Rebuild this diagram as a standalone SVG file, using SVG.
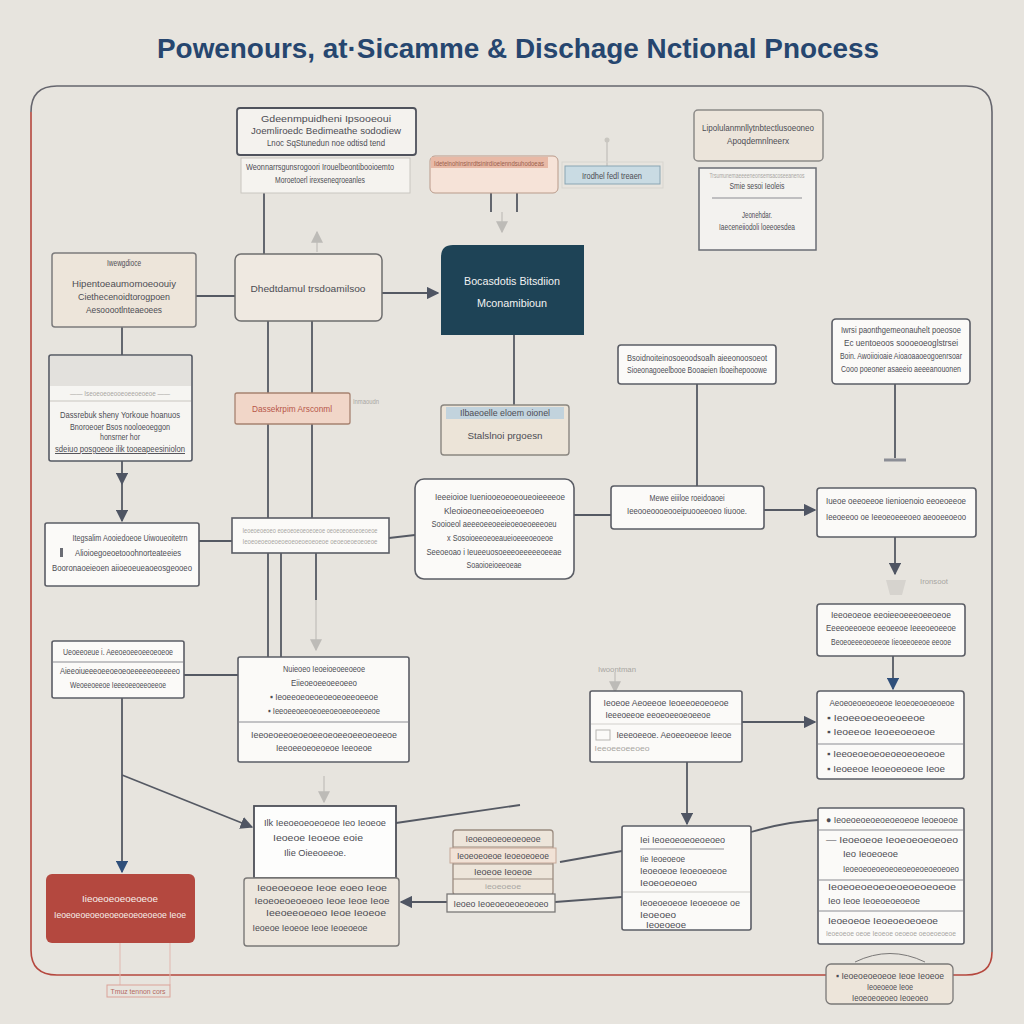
<svg xmlns="http://www.w3.org/2000/svg" width="1024" height="1024" viewBox="0 0 1024 1024">
<style>
text{font-family:"Liberation Sans","DejaVu Sans",sans-serif;}
.t{font-size:9.5px;fill:#4d4d54;text-anchor:middle;}
.tl{font-size:9.5px;fill:#4d4d54;}
.f{font-size:8px;fill:#a8a6a2;text-anchor:middle;}
.w{fill:#fbfaf8;stroke:#5b5d65;stroke-width:1.6;}
.b{fill:#ede6dc;stroke:#7c7b7c;stroke-width:1.5;}
.sep{stroke:#8b8c92;stroke-width:1;}
.c{fill:none;stroke:#555963;stroke-width:1.8;}
.cf{fill:none;stroke:#c9c6c0;stroke-width:1.5;}
</style>
<defs>
<marker id="ar" viewBox="0 0 10 10" refX="9" refY="5" markerWidth="7" markerHeight="7" orient="auto"><path d="M0,0 L10,5 L0,10 z" fill="#4f5563"/></marker>
<marker id="arb" viewBox="0 0 10 10" refX="9" refY="5" markerWidth="7" markerHeight="7" orient="auto"><path d="M0,0 L10,5 L0,10 z" fill="#2f4f7a"/></marker>
<marker id="arf" viewBox="0 0 10 10" refX="9" refY="5" markerWidth="8" markerHeight="8" orient="auto"><path d="M0,0 L10,5 L0,10 z" fill="#bdbbb7"/></marker>
</defs>
<rect width="1024" height="1024" fill="#e7e4de"/>
<text x="518" y="58" font-size="28" font-weight="bold" fill="#26466f" text-anchor="middle" textLength="722" lengthAdjust="spacingAndGlyphs">Powenours, at·Sicamme &amp; Dischage Nctional Pnocess</text>
<g id="frame">
<path d="M31,112 Q31,86 57,86 L966,86 Q992,86 992,112 L992,952" fill="none" stroke="#66666e" stroke-width="1.6"/>
<path d="M31,112 L31,950 Q31,975 57,975 L966,975 Q992,975 992,952" fill="none" stroke="#b5473e" stroke-width="1.6"/>
</g>
<g id="connectors">
<path class="c" d="M264,193 V254"/>
<path class="c" d="M196,296 H235"/>
<path class="c" d="M382,293 H438" marker-end="url(#ar)"/>
<path class="c" d="M122,327 V355"/>
<path class="c" d="M122,461 V484" marker-end="url(#ar)"/>
<path class="c" d="M122,484 V521" marker-end="url(#ar)"/>
<path class="c" d="M268,321 V657"/>
<path class="c" d="M312,321 V518"/>
<path class="c" d="M281,553 V657"/>
<path class="c" d="M316,553 V600"/>
<path class="cf" d="M316,600 V650" marker-end="url(#arf)"/>
<path class="c" d="M199,541 H232"/>
<path class="c" d="M389,538 L415,535"/>
<path class="c" d="M574,515 H611"/>
<path class="c" d="M514,335 V405"/>
<path class="c" d="M697,384 V486"/>
<path class="c" d="M764,510 H815" marker-end="url(#ar)"/>
<path class="c" d="M895,384 V458"/>
<path d="M884,460 H906" stroke="#8c8e96" stroke-width="3"/>
<path class="c" d="M895,537 V574" marker-end="url(#ar)"/>
<path class="c" d="M893,656 V689" marker-end="url(#arb)"/>
<path class="c" d="M742,722 H815" marker-end="url(#ar)"/>
<path class="c" d="M122,698 V872" stroke="#3a4f6e" marker-end="url(#arb)"/>
<path class="c" d="M184,675 H238"/>
<path class="c" d="M122,775 L252,827" marker-end="url(#ar)"/>
<path class="c" d="M396,823 L520,805"/>
<path class="c" d="M687,762 V824" marker-end="url(#ar)"/>
<path class="c" d="M751,832 Q785,822 818,820"/>
<path class="c" d="M622,851 L560,862"/>
<path class="c" d="M622,897 L555,902"/>
<path class="c" d="M447,902 H401" marker-end="url(#ar)"/>
<path class="cf" d="M324,776 V802" marker-end="url(#arf)"/>
<path class="cf" d="M615,672 V692" marker-end="url(#arf)"/>
<path class="cf" d="M607,140 V166"/>
<circle cx="607" cy="140" r="2.5" fill="#c9c6c0"/>
<path class="cf" d="M317,252 V232" marker-end="url(#arf)"/>
<path class="cf" d="M502,212 V232" marker-end="url(#arf)"/>
<path class="c" d="M491,193 V212 M517,193 V212" stroke-width="1"/>
<path d="M120,943 V985" stroke="#e2b7af" stroke-width="1"/>
<path d="M170,943 V985" stroke="#e2b7af" stroke-width="1"/>
<path d="M855,962 Q890,945 925,962" fill="none" stroke="#7a7877" stroke-width="1"/>
</g>
<g id="n1"><rect x="237" y="108" width="179" height="47" rx="3" fill="#f4f2ee" stroke="#4f525c" stroke-width="1.8"/>
<text class="t" x="326" y="122" textLength="130" lengthAdjust="spacingAndGlyphs">Gdeenmpuidheni Ipsooeoui</text>
<text class="t" x="326" y="134" textLength="150" lengthAdjust="spacingAndGlyphs">Joemliroedc Bedimeathe sododiew</text>
<text class="t" x="326" y="146" textLength="118" lengthAdjust="spacingAndGlyphs">Lnoc SqStunedun noe odtisd tend</text></g>
<g id="n1b"><rect x="241" y="158" width="169" height="35" fill="#f5f3ef" stroke="#c9c6c0"/>
<text class="t" x="320" y="170" textLength="148" lengthAdjust="spacingAndGlyphs">Weonnarrsgunsrogoori Irouelbeontibooioemto</text>
<text class="t" x="320" y="183" textLength="90" lengthAdjust="spacingAndGlyphs">Moroetoerl irexseneqroeanles</text></g>
<g id="n2"><rect x="430" y="156" width="128" height="37" rx="5" fill="#f6e3d8" stroke="#b99a8a"/>
<rect x="431" y="157" width="117" height="11" fill="#e8b9a6"/>
<text x="489" y="166" font-size="8" fill="#9a5f4c" text-anchor="middle" textLength="110" lengthAdjust="spacingAndGlyphs">Idetelnohinsinrdtsinirdioelenndsuhodoeas</text></g>
<g id="n3"><rect x="562" y="162" width="101" height="26" fill="none" stroke="#d8d5cf"/>
<rect x="565" y="166" width="95" height="18" fill="#c9dbe3" stroke="#8aa5b3"/>
<text class="t" x="612" y="179" textLength="60" lengthAdjust="spacingAndGlyphs">Irodhel fedl treaen</text></g>
<g id="n4"><rect x="694" y="110" width="129" height="51" rx="4" fill="#ece5db" stroke="#8c8a88" stroke-width="1.5"/>
<text class="t" x="758" y="131" textLength="112" lengthAdjust="spacingAndGlyphs">Lipolulanmnllytnbtectlusoeoneo</text>
<text class="t" x="758" y="144" textLength="62" lengthAdjust="spacingAndGlyphs">Apoqdemnlneerx</text></g>
<g id="n5"><rect x="699" y="168" width="117" height="82" fill="#f3f2ef" stroke="#6a6c74" stroke-width="1.5"/>
<text class="f" x="757" y="178" textLength="95" lengthAdjust="spacingAndGlyphs">Trsumunemaeeeeneonsemsacoseeanenos</text>
<text class="t" x="757" y="189" textLength="55" lengthAdjust="spacingAndGlyphs">Smie sesoi Ieoleis</text>
<line class="sep" x1="712" y1="198" x2="802" y2="198"/>
<text class="t" x="757" y="218" textLength="30" lengthAdjust="spacingAndGlyphs">Jeonehdar.</text>
<text class="t" x="757" y="230" textLength="76" lengthAdjust="spacingAndGlyphs">Iaeceneiiodoli loeeoesdea</text></g>
<g id="n6"><rect x="52" y="253" width="144" height="74" rx="3" fill="#ede5da" stroke="#7c7b7c" stroke-width="1.5"/>
<text class="t" x="124" y="266" font-size="7" textLength="34" lengthAdjust="spacingAndGlyphs">Iwewgdioce</text>
<text class="t" x="124" y="287" textLength="104" lengthAdjust="spacingAndGlyphs">Hipentoeaumomoeoouiy</text>
<text class="t" x="124" y="300" textLength="92" lengthAdjust="spacingAndGlyphs">Ciethecenoidtorogpoen</text>
<text class="t" x="124" y="313" textLength="76" lengthAdjust="spacingAndGlyphs">Aesooootlnteaeoees</text></g>
<g id="n7"><rect x="235" y="254" width="147" height="67" rx="6" fill="#efe9e1" stroke="#6e6d6e" stroke-width="1.5"/>
<text class="t" x="308" y="292" textLength="115" lengthAdjust="spacingAndGlyphs">Dhedtdamul trsdoamilsoo</text></g>
<g id="n8"><path d="M453,245 H584 V335 H441 V257 Q441,245 453,245 z" fill="#1e4356"/>
<text x="512" y="285" font-size="11" fill="#f2f2f2" text-anchor="middle" textLength="96" lengthAdjust="spacingAndGlyphs">Bocasdotis Bitsdiion</text>
<text x="512" y="307" font-size="11" fill="#f2f2f2" text-anchor="middle" textLength="70" lengthAdjust="spacingAndGlyphs">Mconamibioun</text></g>
<g id="n9"><rect x="49" y="355" width="143" height="106" rx="2" fill="#f6f5f2" stroke="#555963" stroke-width="1.6"/>
<rect x="50" y="356" width="141" height="30" fill="#e3e1dd"/>
<text class="f" x="120" y="396" textLength="100" lengthAdjust="spacingAndGlyphs">—— Iseoeoeoeooeoeeoeoeoe ——</text>
<line x1="50" y1="401" x2="191" y2="401" stroke="#c9c6c0"/>
<text class="t" x="120" y="418" textLength="120" lengthAdjust="spacingAndGlyphs">Dassrebuk sheny Yorkoue hoanuos</text>
<text class="t" x="120" y="430" textLength="100" lengthAdjust="spacingAndGlyphs">Bnoroeoer Bsos nooloeoeggon</text>
<text class="t" x="120" y="440" textLength="40" lengthAdjust="spacingAndGlyphs">honsrner hor</text>
<text class="t" x="120" y="452" textLength="130" lengthAdjust="spacingAndGlyphs" text-decoration="underline">sdeiuo posgoeoe ilik tooeapeesiniolon</text></g>
<g id="n10"><rect x="235" y="393" width="115" height="31" rx="2" fill="#f1d6c8" stroke="#a78270" stroke-width="1.3"/>
<text x="292" y="412" font-size="9.5" fill="#b7574a" text-anchor="middle" textLength="80" lengthAdjust="spacingAndGlyphs">Dassekrpim Arsconml</text>
<text class="f" x="366" y="404" textLength="26" lengthAdjust="spacingAndGlyphs">Inmaoudn</text></g>
<g id="n11"><rect x="441" y="405" width="128" height="50" rx="3" fill="#ece4d8" stroke="#8a8680" stroke-width="1.4"/>
<rect x="446" y="407" width="118" height="12" fill="#c2d3dd"/>
<text class="t" x="505" y="416" font-size="8" fill="#8397a5" textLength="90" lengthAdjust="spacingAndGlyphs">Ilbaeoelle eloem oionel</text>
<text class="t" x="505" y="439" textLength="75" lengthAdjust="spacingAndGlyphs">Stalslnoi prgoesn</text></g>
<g id="n12"><rect x="618" y="345" width="158" height="39" rx="3" class="w"/>
<text class="t" x="697" y="361" textLength="140" lengthAdjust="spacingAndGlyphs">Bsoidnoiteinosoeoodsoalh aieeonoosoeot</text>
<text class="t" x="697" y="373" textLength="140" lengthAdjust="spacingAndGlyphs">Sioeonagoeelbooe Booaeien Iboeihepooowe</text></g>
<g id="n13"><rect x="832" y="319" width="138" height="65" rx="4" class="w"/>
<text class="t" x="901" y="333" textLength="120" lengthAdjust="spacingAndGlyphs">Iwrsi paonthgemeonauhelt poeosoe</text>
<text class="t" x="901" y="346" textLength="114" lengthAdjust="spacingAndGlyphs">Ec uentoeoos soooeoeoglstrsei</text>
<text class="t" x="901" y="359" textLength="122" lengthAdjust="spacingAndGlyphs">Boin. Awoiioioaie Aioaoaaoeogoenrsoar</text>
<text class="t" x="901" y="372" textLength="120" lengthAdjust="spacingAndGlyphs">Cooo poeoner asaeeio aeeeanouonen</text></g>
<g id="n14"><rect x="45" y="523" width="154" height="63" rx="2" class="w"/>
<text class="t" x="130" y="541" textLength="115" lengthAdjust="spacingAndGlyphs">Itegsalim Aooiedoeoe Uiwoueoitetrn</text>
<text class="t" x="128" y="556" textLength="106" lengthAdjust="spacingAndGlyphs">Alioioegoeoetooohnorteateeies</text>
<rect x="60" y="548" width="3" height="9" fill="#6a6c74"/>
<text class="t" x="122" y="571" textLength="140" lengthAdjust="spacingAndGlyphs">Booronaoeieoen aiioeoeueaoeosgeooeo</text></g>
<g id="n15"><rect x="232" y="518" width="157" height="35" class="w"/>
<text class="f" x="310" y="533" textLength="135" lengthAdjust="spacingAndGlyphs">Ieoeoeoeoeo eoeoeoeoeoeoeoe oeoeoeoeoeoeoeoe</text>
<text class="f" x="310" y="544" textLength="135" lengthAdjust="spacingAndGlyphs">Ieoeoeoeoeoeoeoeoeoeoeoeoe oeoeoeoeoeoeoe</text></g>
<g id="n16"><rect x="415" y="479" width="159" height="100" rx="9" class="w"/>
<text class="t" x="500" y="500" textLength="130" lengthAdjust="spacingAndGlyphs">Ieeeioioe  Iueniooeoeoeoueoieeeeoe</text>
<text class="t" x="494" y="514" textLength="100" lengthAdjust="spacingAndGlyphs">Kleoioeoneeoeioeeoeeoeo</text>
<text class="t" x="494" y="527" textLength="125" lengthAdjust="spacingAndGlyphs">Sooioeol aeeeoeeoeeieoeoeoeeeoeu</text>
<text class="t" x="500" y="541" textLength="106" lengthAdjust="spacingAndGlyphs">x Sosoioeeoeoeaueioeeeoeoeoe</text>
<text class="t" x="494" y="555" textLength="135" lengthAdjust="spacingAndGlyphs">Seeoeoao i Ieueeuosoeeeoeeeeeoeeae</text>
<text class="t" x="494" y="568" textLength="55" lengthAdjust="spacingAndGlyphs">Soaoioeioeeoeae</text></g>
<g id="n17"><rect x="611" y="486" width="153" height="43" rx="3" class="w"/>
<text class="t" x="687" y="501" textLength="75" lengthAdjust="spacingAndGlyphs">Mewe eiiiloe roeidoaoei</text>
<text class="t" x="687" y="514" textLength="120" lengthAdjust="spacingAndGlyphs">Ieeooeoooeooeipuooeeoeo Iiuooe.</text></g>
<g id="n18"><rect x="817" y="488" width="159" height="49" rx="3" class="w"/>
<text class="t" x="896" y="504" textLength="140" lengthAdjust="spacingAndGlyphs">Iueoe oeeoeeoe Iienioenoio eeoeoeeoe</text>
<text class="t" x="896" y="520" textLength="140" lengthAdjust="spacingAndGlyphs">Ieeoeeoo oe Ieeoeoeeeoeo  aeooeeoeoo</text>
<path d="M886,580 H906 L902,595 H890 z" fill="#d6d3ce"/>
<text class="f" x="934" y="584" textLength="28" lengthAdjust="spacingAndGlyphs">Ironsoot</text></g>
<g id="n19"><rect x="817" y="604" width="148" height="52" rx="3" class="w"/>
<text class="t" x="891" y="618" textLength="120" lengthAdjust="spacingAndGlyphs">Ieeoeoeoe eeoieeoeeeoeeoeoe</text>
<text class="t" x="891" y="631" textLength="130" lengthAdjust="spacingAndGlyphs">Eeeeoeeoeoe eeoeeoe Ieeeoeoeeoe</text>
<text class="t" x="891" y="645" textLength="120" lengthAdjust="spacingAndGlyphs">Beoeoeeeoeoeeoe Iieoeeoeeoe eeooe</text></g>
<g id="n20"><rect x="52" y="641" width="132" height="57" rx="2" class="w"/>
<text class="t" x="118" y="655" textLength="110" lengthAdjust="spacingAndGlyphs">Ueoeeoeue i. Aeeoeoeeoeeoeoeoe</text>
<line class="sep" x1="53" y1="662" x2="183" y2="662"/>
<text class="t" x="120" y="674" textLength="120" lengthAdjust="spacingAndGlyphs">Aieeoiueeeoeeoeoeoeeeeeoeeeeeo</text>
<text class="t" x="118" y="688" textLength="96" lengthAdjust="spacingAndGlyphs">Weoeeoeeoe Ieeeoeeoeeoeeoe</text></g>
<g id="n21"><rect x="238" y="657" width="171" height="105" rx="2" class="w"/>
<text class="t" x="324" y="672" textLength="82" lengthAdjust="spacingAndGlyphs">Nuieoeo Ieoeioeoeeoeoe</text>
<text class="t" x="324" y="686" textLength="66" lengthAdjust="spacingAndGlyphs">Eiieoeoeeoeeoeeo</text>
<text class="t" x="324" y="700" textLength="108" lengthAdjust="spacingAndGlyphs">▪ Ieoeeoeoeoeoeoeoeeoeeoe</text>
<text class="t" x="324" y="714" textLength="112" lengthAdjust="spacingAndGlyphs">▪ Ieeoeeoeeoeoeeoeoeeoeeoeoe</text>
<line class="sep" x1="239" y1="722" x2="408" y2="722"/>
<text class="t" x="324" y="738" textLength="146" lengthAdjust="spacingAndGlyphs">Ieeoeoeeoeoeoeeoeoeeoeeoeoeeoe</text>
<text class="t" x="324" y="751" textLength="96" lengthAdjust="spacingAndGlyphs">Ieeoeeoeoeoeoe Ieeoeoe</text></g>
<g id="n22"><rect x="590" y="691" width="152" height="71" rx="2" class="w"/>
<text class="f" x="617" y="672" textLength="38" lengthAdjust="spacingAndGlyphs">Iwoontman</text>
<text class="t" x="666" y="706" textLength="125" lengthAdjust="spacingAndGlyphs">Ieoeoe Aeoeeoe Ieoeeoeoeoeoe</text>
<text class="t" x="658" y="718" textLength="105" lengthAdjust="spacingAndGlyphs">Ieeeoeeoe eeoeoeeoeoeeoe</text>
<line x1="591" y1="724" x2="741" y2="724" stroke="#d2d0cc"/>
<rect x="596" y="730" width="14" height="10" fill="none" stroke="#b8b6b2"/>
<text class="t" x="674" y="738" textLength="115" lengthAdjust="spacingAndGlyphs">Ieeeoeeoe. Aeoeeoeeoe Ieeoe</text>
<text class="f" x="622" y="751" textLength="55" lengthAdjust="spacingAndGlyphs">Ieeoeeoeeoeo</text></g>
<g id="n23"><rect x="817" y="691" width="147" height="88" rx="3" class="w"/>
<text class="t" x="892" y="706" textLength="125" lengthAdjust="spacingAndGlyphs">Aeoeoeoeoeoeoe Ieoeoeoeoeoeoe</text>
<text class="tl" x="827" y="721" textLength="98" lengthAdjust="spacingAndGlyphs">▪ Ieoeeoeoeoeoeeoe</text>
<text class="tl" x="827" y="735" textLength="108" lengthAdjust="spacingAndGlyphs">▪ Ieoeeoe Ieoeeoeoeoe</text>
<line class="sep" x1="818" y1="744" x2="963" y2="744"/>
<text class="tl" x="827" y="757" textLength="118" lengthAdjust="spacingAndGlyphs">▪ Ieeoeoeoeoeoeoeoeoeoe</text>
<text class="tl" x="827" y="772" textLength="118" lengthAdjust="spacingAndGlyphs">▪ Ieoeeoe Ieoeoeoeoe Ieoe</text></g>
<g id="n24"><rect x="254" y="806" width="142" height="72" fill="#fdfdfc" stroke="#4d4f58" stroke-width="1.8"/>
<text class="t" x="325" y="826" textLength="122" lengthAdjust="spacingAndGlyphs">Ilk  Ieeoeoeoeoeoe Ieo Ieoeoe</text>
<text class="t" x="318" y="841" textLength="90" lengthAdjust="spacingAndGlyphs">Ieoeoe Ieoeoe eoie</text>
<text class="t" x="315" y="856" textLength="62" lengthAdjust="spacingAndGlyphs">Ilie Oieeoeeoe.</text></g>
<g id="n25"><rect x="244" y="878" width="155" height="68" rx="3" fill="#ece6dd" stroke="#7a7877" stroke-width="1.4"/>
<text class="t" x="322" y="891" textLength="130" lengthAdjust="spacingAndGlyphs">Ieoeoeoeoe Ieoe eoeo Ieoe</text>
<text class="t" x="322" y="904" textLength="135" lengthAdjust="spacingAndGlyphs">Ieoeoeoeoeoeo Ieoe Ieoe Ieoe</text>
<text class="t" x="326" y="916" textLength="120" lengthAdjust="spacingAndGlyphs">Ieeoeeoeoeo Ieoe Ieoeoe</text>
<text class="t" x="310" y="931" textLength="115" lengthAdjust="spacingAndGlyphs">Ieoeoe Ieoeoe Ieoe Ieoeoeoe</text></g>
<g id="n26"><rect x="453" y="830" width="100" height="65" rx="3" fill="#ede5da" stroke="#9b8c80" stroke-width="1.3"/>
<line x1="453" y1="847" x2="553" y2="847" stroke="#9b8c80"/>
<rect x="450" y="848" width="106" height="15" fill="#f1e2d6" stroke="#c6a898"/>
<line x1="453" y1="864" x2="553" y2="864" stroke="#9b8c80"/>
<line x1="453" y1="879" x2="553" y2="879" stroke="#9b8c80"/>
<text class="t" x="503" y="842" textLength="75" lengthAdjust="spacingAndGlyphs">Ieoeoeoeoeoeoeoe</text>
<text class="t" x="503" y="859" textLength="92" lengthAdjust="spacingAndGlyphs">Ieoeoeoeoe Ieoeoeoeoe</text>
<text class="t" x="503" y="875" textLength="58" lengthAdjust="spacingAndGlyphs">Ieoeoe Ieoeoe</text>
<text class="f" x="503" y="889" font-size="7" textLength="36" lengthAdjust="spacingAndGlyphs">ieoeoeoe</text></g>
<g id="n27"><rect x="447" y="894" width="108" height="18" fill="#f3f0ea" stroke="#7a7877" stroke-width="1.3"/>
<text class="t" x="501" y="907" textLength="95" lengthAdjust="spacingAndGlyphs">Ieoeo Ieoeoeoeoeoeoeo</text></g>
<g id="n28"><rect x="622" y="826" width="129" height="104" rx="2" class="w" fill="#f6f4f0"/>
<text class="tl" x="640" y="843" textLength="85" lengthAdjust="spacingAndGlyphs">Iei Ieoeoeoeoeoeoeo</text>
<line class="sep" x1="640" y1="849" x2="724" y2="849"/>
<text class="tl" x="640" y="862" textLength="45" lengthAdjust="spacingAndGlyphs">Iie Ieoeoeoe</text>
<text class="tl" x="640" y="874" textLength="87" lengthAdjust="spacingAndGlyphs">Ieoeoeoe Ieoeoeoeoe</text>
<text class="tl" x="640" y="886" textLength="57" lengthAdjust="spacingAndGlyphs">Ieoeoeoeoeo</text>
<line x1="623" y1="892" x2="750" y2="892" stroke="#cfcdc9"/>
<text class="tl" x="640" y="906" textLength="100" lengthAdjust="spacingAndGlyphs">Ieoeoeoeoe Ieoeoeoe oe</text>
<text class="tl" x="640" y="918" textLength="36" lengthAdjust="spacingAndGlyphs">Ieoeoeo</text>
<text class="tl" x="646" y="928" font-size="8" textLength="40" lengthAdjust="spacingAndGlyphs">Ieoeoeoe</text></g>
<g id="n29"><rect x="818" y="808" width="146" height="136" rx="2" class="w" fill="#f6f4f0"/>
<text class="tl" x="826" y="823" textLength="132" lengthAdjust="spacingAndGlyphs">● Ieoeoeoeoeoeoeoeoe Ieoeoeoe</text>
<line class="sep" x1="819" y1="830" x2="963" y2="830"/>
<text class="tl" x="826" y="843" textLength="132" lengthAdjust="spacingAndGlyphs">— Ieoeoeoe Ieoeoeoeoeoeo</text>
<text class="tl" x="843" y="857" textLength="55" lengthAdjust="spacingAndGlyphs">Ieo Ieoeoeoe</text>
<text class="tl" x="843" y="872" textLength="116" lengthAdjust="spacingAndGlyphs">Ieoeoeoeoeoeoeoeoeoeoeoeoeo</text>
<line class="sep" x1="819" y1="880" x2="963" y2="880"/>
<text class="tl" x="828" y="890" fill="#8d8b88" textLength="128" lengthAdjust="spacingAndGlyphs">Ieoeoeoeoeoeoeoeoeoeoe</text>
<text class="tl" x="828" y="904" textLength="92" lengthAdjust="spacingAndGlyphs">Ieo Ieoe Ieoeoeoeoeoe</text>
<line class="sep" x1="819" y1="911" x2="963" y2="911"/>
<text class="tl" x="828" y="924" textLength="110" lengthAdjust="spacingAndGlyphs">Ieoeoeoe Ieoeoeoeoeoe</text>
<text class="f" x="891" y="936" textLength="130" lengthAdjust="spacingAndGlyphs">Ieoeoeoe oeoe Ieoeoe oeoeoe oeoeoeoeoe</text></g>
<g id="n30"><rect x="46" y="874" width="149" height="69" rx="6" fill="#b4483f"/>
<text x="120" y="902" font-size="9.5" fill="#f6eeea" text-anchor="middle" textLength="76" lengthAdjust="spacingAndGlyphs">Iieoeoeoeoeoeoe</text>
<text x="120" y="918" font-size="9.5" fill="#f6eeea" text-anchor="middle" textLength="132" lengthAdjust="spacingAndGlyphs">Ieoeoeoeoeoeoeoeoeoeoeoe Ieoe</text></g>
<g id="n32"><rect x="107" y="985" width="63" height="12" fill="none" stroke="#dba197"/>
<text x="138" y="994" font-size="7.5" fill="#b36a5e" text-anchor="middle" textLength="55" lengthAdjust="spacingAndGlyphs">Tmuz tennon cors</text></g>
<g id="n31"><rect x="826" y="964" width="127" height="40" rx="5" fill="#ede5da" stroke="#7a7877" stroke-width="1.3"/>
<text class="t" x="890" y="979" textLength="108" lengthAdjust="spacingAndGlyphs">▪ Ieoeoeoeoeoe Ieoe Ieoeoe</text>
<text class="t" x="890" y="990" textLength="46" lengthAdjust="spacingAndGlyphs">Ieoeoeoe Ieoe</text>
<text class="t" x="890" y="1001" textLength="76" lengthAdjust="spacingAndGlyphs">Ieoeoeoeoeo Ieoeoeo</text></g>
</svg>
